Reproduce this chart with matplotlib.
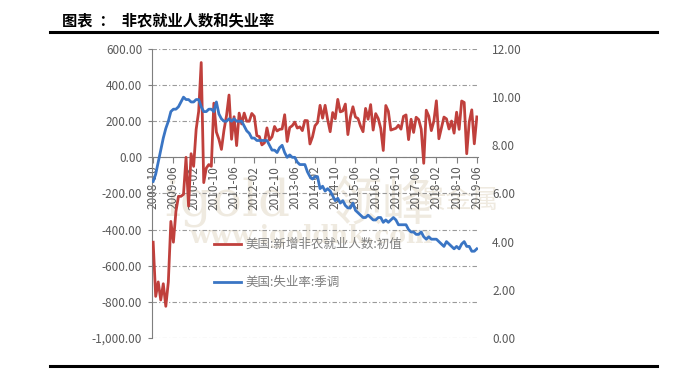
import numpy as np
import pandas as pd
import matplotlib
matplotlib.use("Agg")
import matplotlib.pyplot as plt
from matplotlib.lines import Line2D
from matplotlib.ticker import FuncFormatter

plt.rcParams['font.family'] = ['Noto Sans CJK SC', 'DejaVu Sans']

# monthly, 2008-10 .. 2019-06
months = [p.strftime('%Y-%m') for p in pd.period_range('2008-10', '2019-06', freq='M')]

# US nonfarm payrolls, change (thousands)
nfp = [-470, -770, -690,
       -790, -700, -825, -690, -355, -470, -300, -216, -216, -205, 0, -270,
       20, -50, 155, 255, 525, -140, -60, -40, -50, 300, 140, 100,
       44, 150, 230, 345, 100, 225, 65, 245, 185, 245, 200, 200,
       243, 227, 120, 115, 69, 80, 163, 96, 114, 171, 146, 155,
       157, 236, 88, 165, 175, 195, 162, 169, 148, 204, 203, 74,
       113, 175, 192, 288, 217, 288, 209, 142, 248, 214, 321, 252,
       257, 295, 126, 223, 280, 223, 215, 173, 142, 271, 211, 292,
       151, 242, 215, 160, 38, 287, 255, 151, 156, 161, 178, 156,
       227, 235, 98, 211, 138, 222, 209, 156, -33, 261, 228, 148,
       200, 313, 103, 164, 223, 213, 157, 201, 134, 250, 155, 312,
       304, 20, 196, 263, 75, 224]

# US unemployment rate, SA (%)
unemp = [6.5, 6.8, 7.3,
         7.8, 8.3, 8.7, 9.0, 9.4, 9.5, 9.5, 9.6, 9.8, 10.0, 9.9, 9.9,
         9.8, 9.8, 9.9, 9.9, 9.6, 9.4, 9.4, 9.5, 9.5, 9.4, 9.8, 9.3,
         9.1, 9.0, 9.0, 9.1, 9.0, 9.1, 9.0, 9.0, 9.0, 8.8, 8.6, 8.5,
         8.3, 8.3, 8.2, 8.2, 8.2, 8.2, 8.2, 8.0, 7.8, 7.8, 7.7, 7.9,
         8.0, 7.7, 7.5, 7.6, 7.5, 7.5, 7.3, 7.2, 7.2, 7.2, 6.9, 6.7,
         6.6, 6.7, 6.7, 6.2, 6.3, 6.1, 6.2, 6.1, 5.9, 5.7, 5.8, 5.6,
         5.7, 5.5, 5.4, 5.4, 5.6, 5.3, 5.2, 5.1, 5.0, 5.0, 5.1, 5.0,
         4.9, 4.9, 5.0, 5.0, 4.8, 4.9, 4.8, 4.9, 5.0, 4.9, 4.7, 4.7,
         4.7, 4.7, 4.5, 4.4, 4.4, 4.3, 4.3, 4.4, 4.2, 4.1, 4.2, 4.1,
         4.1, 4.1, 4.0, 3.9, 3.8, 4.0, 3.9, 3.8, 3.7, 3.8, 3.7, 3.9,
         4.0, 3.8, 3.8, 3.6, 3.6, 3.7]

label_nfp = '美国:新增非农就业人数:初值'
label_un = '美国:失业率:季调'
title = '图表  ：  非农就业人数和失业率'

red = '#C0403C'
blue = '#3A75C4'
grey = '#595959'

fig = plt.figure(figsize=(7, 3.92), dpi=100)
ax = fig.add_axes([0.217, 0.138, 0.466, 0.737])
ax2 = ax.twinx()

x = np.arange(len(months))

# faint watermark behind the plot
wm = '#EFEAE0'
fig.text(0.235, 0.45, 'igold', fontsize=36, color=wm, family='DejaVu Serif',
         zorder=0)
fig.text(0.47, 0.44, '领峰', fontsize=38, color=wm, zorder=0)
fig.text(0.60, 0.47, '贵金属', fontsize=19, color=wm, zorder=0)
fig.text(0.27, 0.38, 'www.igoldhk.com', fontsize=18, color=wm,
         family='DejaVu Serif', fontweight='bold', zorder=0)

ax.set_zorder(2)
ax2.set_zorder(3)
ax.patch.set_visible(False)

l1, = ax.plot(x, nfp, color=red, lw=2, zorder=3)
l2, = ax2.plot(x, unemp, color=blue, lw=2, zorder=3)

ax.set_ylim(-1000, 600)
ax.set_yticks(np.arange(-1000, 601, 200))
ax.yaxis.set_major_formatter(FuncFormatter(lambda v, p: f'{v:,.2f}'))
ax2.set_ylim(0, 12)
ax2.set_yticks(np.arange(0, 13, 2))
ax2.yaxis.set_major_formatter(FuncFormatter(lambda v, p: f'{v:.2f}'))

ax.set_xlim(-0.5, len(months) - 0.5)
ticks = x[::8]
ax.set_xticks(ticks)
ax.set_xticklabels([months[i] for i in ticks])

ax.grid(axis='y', color='#9a9a9a', lw=0.8, linestyle=(0, (4, 2, 1, 2)))
ax.spines['top'].set_visible(False)
ax.spines['right'].set_visible(False)
ax.spines['bottom'].set_position(('data', 0))
ax.spines['bottom'].set_color('#7f7f7f')
ax.spines['left'].set_color('#7f7f7f')
for s in ax2.spines.values():
    s.set_visible(False)

ax.tick_params(axis='x', length=4, width=0.8, color='#7f7f7f', pad=2,
               labelrotation=90, labelsize=8.5, labelcolor=grey)
ax.tick_params(axis='y', length=3, width=0.8, color='#7f7f7f', labelsize=8.5,
               labelcolor=grey, pad=4)
ax2.tick_params(axis='y', length=0, labelsize=8.5, labelcolor=grey, pad=10)

leg = ax.legend([l1, l2], [label_nfp, label_un], loc='upper left',
                bbox_to_anchor=(0.19, 0.345), frameon=False, fontsize=9,
                labelspacing=2.0, handlelength=2.2, handletextpad=0.3,
                borderpad=0, borderaxespad=0)
for t in leg.get_texts():
    t.set_color('#7f7f7f')

fig.text(0.089, 0.949, title, fontsize=11, fontweight='bold', va='center')
fig.add_artist(Line2D([0.072, 0.938], [1 - 32 / 392] * 2, color='black', lw=2.2))
fig.add_artist(Line2D([0.072, 0.938], [1 - 366 / 392] * 2, color='black', lw=2.2))

fig.savefig('out.png', dpi=100)
